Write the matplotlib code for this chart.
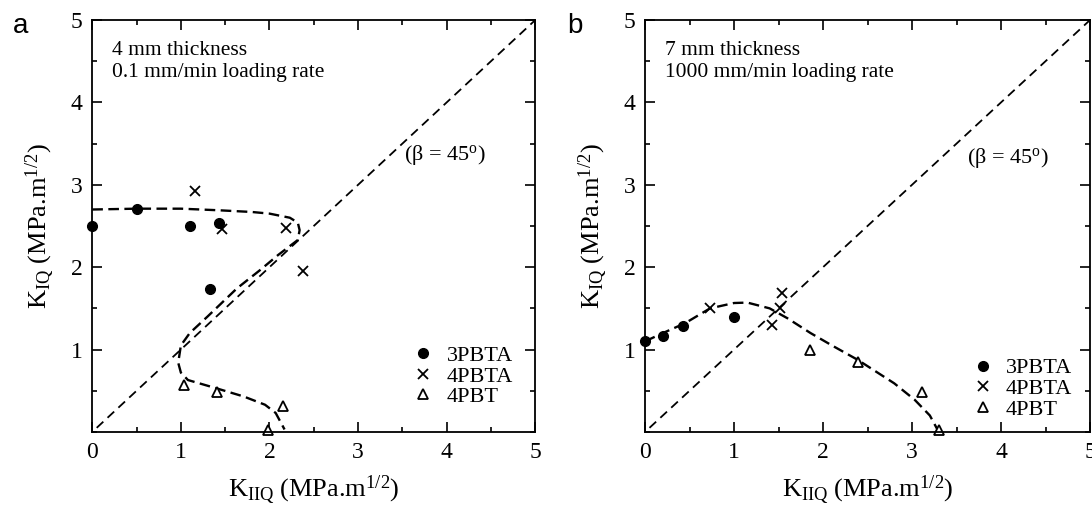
import matplotlib.pyplot as plt
from matplotlib.ticker import MultipleLocator

plt.rcParams['font.family'] = ['Liberation Serif', 'DejaVu Serif']
plt.rcParams['mathtext.fontset'] = 'custom'
plt.rcParams['mathtext.rm'] = 'Liberation Serif'
plt.rcParams['mathtext.it'] = 'Liberation Serif:italic'

# Panel a: 4 mm thickness, 0.1 mm/min
a_3pbta_x = [0.0, 0.50, 1.10, 1.43, 1.33]
a_3pbta_y = [2.50, 2.70, 2.50, 2.54, 1.74]
a_4pbta_x = [1.16, 1.46, 2.19, 2.38]
a_4pbta_y = [2.93, 2.46, 2.48, 1.95]
a_4pbt_x = [1.04, 1.41, 2.15, 1.98]
a_4pbt_y = [0.57, 0.48, 0.32, 0.02]
a_fit_x = [0.0, 0.5, 1.0, 1.44, 1.8, 2.0, 2.23, 2.32, 2.34, 2.32, 2.1, 1.9, 1.63, 1.3, 1.1, 1.0,
           0.97, 1.0, 1.08, 1.4, 1.71, 1.95, 2.07, 2.17]
a_fit_y = [2.70, 2.71, 2.71, 2.69, 2.67, 2.65, 2.60, 2.54, 2.45, 2.33, 2.15, 1.97, 1.74, 1.40, 1.20, 1.05,
           0.84, 0.72, 0.63, 0.53, 0.43, 0.33, 0.23, 0.03]

# Panel b: 7 mm thickness, 1000 mm/min
b_3pbta_x = [0.0, 0.2, 0.43, 1.0]
b_3pbta_y = [1.10, 1.16, 1.28, 1.39]
b_4pbta_x = [0.73, 1.43, 1.52, 1.54]
b_4pbta_y = [1.50, 1.30, 1.50, 1.69]
b_4pbt_x = [1.85, 2.39, 3.11, 3.30]
b_4pbt_y = [1.00, 0.855, 0.49, 0.02]
b_fit_x = [0.0, 0.2, 0.45, 0.73, 1.0, 1.15, 1.4, 1.6, 1.86, 2.1, 2.39, 2.8, 3.03, 3.2, 3.3]
b_fit_y = [1.10, 1.20, 1.32, 1.50, 1.565, 1.57, 1.50, 1.38, 1.20, 1.05, 0.875, 0.59, 0.39, 0.20, 0.0]

# 45 degree mixed-mode line
diag = [0.05, 5.0]

def draw_panel(ax, p3_x, p3_y, p4a_x, p4a_y, p4_x, p4_y, fit_x, fit_y, note, beta_xy, leg_anchor):
  # Reference line and fitted envelope
  ax.plot(diag, diag, color='black', lw=1.3, dashes=(5, 3.2))
  ax.plot(fit_x, fit_y, color='black', lw=1.7, dashes=(4.5, 2.3))

  # Data for the three specimen types
  ax.plot(p3_x, p3_y, 'o', color='black', ms=7, label='3PBTA', clip_on=False)
  ax.plot(p4a_x, p4a_y, 'x', color='black', ms=7.5, mew=1.3, label='4PBTA', clip_on=False)
  ax.plot(p4_x, p4_y, '^', mfc='white', mec='black', ms=6.5, mew=1.3, label='4PBT', clip_on=False)

  ax.text(0.22, 4.74, note, fontsize=15.5, va='top', linespacing=1.2)
  ax.text(beta_xy[0], beta_xy[1], '(β = 45$^{\\rm o}$)', fontsize=16, va='center')

  # Axis limits, ticks and labels
  ax.set_xlim(0, 5)
  ax.set_ylim(0, 5)
  ax.xaxis.set_major_locator(MultipleLocator(1))
  ax.xaxis.set_minor_locator(MultipleLocator(0.5))
  ax.yaxis.set_major_locator(MultipleLocator(1))
  ax.yaxis.set_minor_locator(MultipleLocator(0.5))
  ax.set_yticks([1, 2, 3, 4, 5])
  ax.tick_params(which='both', direction='in', top=True, right=True, width=1.2, labelsize=17)
  ax.tick_params(which='major', length=7, pad=7)
  ax.tick_params(which='minor', length=3.5)
  for spine in ax.spines.values():
    spine.set_linewidth(1.3)
  ax.set_xlabel(r'K$_{\rm IIQ}$ (MPa.m$^{\rm 1/2}$)', fontsize=19, labelpad=8)
  ax.set_ylabel(r'K$_{\rm IQ}$ (MPa.m$^{\rm 1/2}$)', fontsize=19, labelpad=10)

  # Legend
  ax.legend(loc='lower right', bbox_to_anchor=leg_anchor, frameon=False, fontsize=16,
            handlelength=1.0, handletextpad=0.55, labelspacing=0.0, borderpad=0, borderaxespad=0)

fig = plt.figure(figsize=(10.92, 5.13), dpi=100)
ax_a = fig.add_axes([0.0845, 0.158, 0.4057, 0.803])
ax_b = fig.add_axes([0.5907, 0.158, 0.4075, 0.803])

draw_panel(ax_a, a_3pbta_x, a_3pbta_y, a_4pbta_x, a_4pbta_y, a_4pbt_x, a_4pbt_y, a_fit_x, a_fit_y,
           '4 mm thickness\n0.1 mm/min loading rate', (3.52, 3.36), (0.95, 0.06))
draw_panel(ax_b, b_3pbta_x, b_3pbta_y, b_4pbta_x, b_4pbta_y, b_4pbt_x, b_4pbt_y, b_fit_x, b_fit_y,
           '7 mm thickness\n1000 mm/min loading rate', (3.62, 3.33), (0.96, 0.03))

# Panel letters
fig.text(0.012, 0.936, 'a', fontsize=20, family='Liberation Sans')
fig.text(0.519, 0.936, 'b', fontsize=20, family='Liberation Sans')

fig.savefig('out.png', dpi=100)
